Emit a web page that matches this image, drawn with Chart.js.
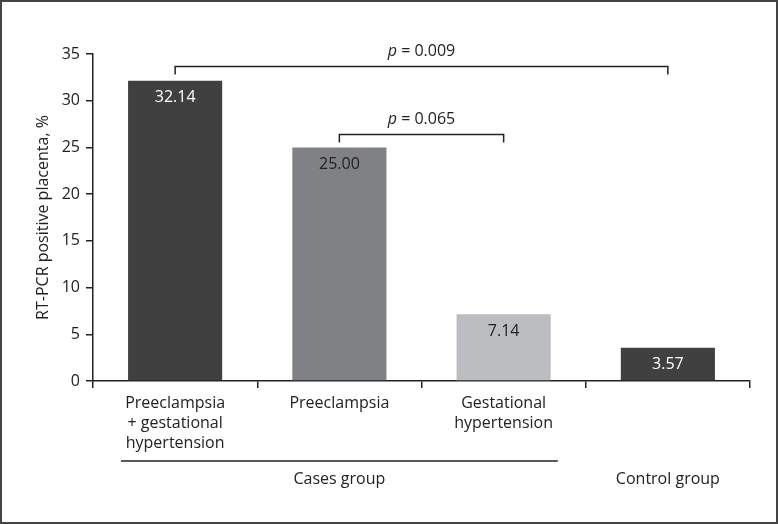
<!DOCTYPE html>
<html>
<head>
<meta charset="utf-8">
<script src="https://cdn.jsdelivr.net/npm/chart.js@4.4.1/dist/chart.umd.min.js"></script>
<style>
  html, body { margin: 0; padding: 0; background: #fff; }
  #wrap { width: 778px; height: 524px; position: relative; }
</style>
</head>
<body>
<div id="wrap"><canvas id="myChart"></canvas></div>
<script>
// Data

const categories = [
    ["Preeclampsia", "+ gestational", "hypertension"],
    ["Preeclampsia"],
    ["Gestational", "hypertension"],
    [""]
];
const values = [32.14, 25.00, 7.14, 3.57];
const valueLabels = ["32.14", "25.00", "7.14", "3.57"];
const groups = [
    ["Cases group", 0, 2],
    ["Control group", 3, 3]
];
// comparisons: from bar, to bar, p value
const comparisons = [
    [0, 3, "0.009"],
    [1, 2, "0.065"]
];

const barColors = ["#404040", "#808185", "#bcbdc0", "#404040"];
const labelColors = ["#ffffff", "#222222", "#222222", "#ffffff"];
const bracketLevels = [33.75, 26.45];
const FONT = "'Open Sans', sans-serif";
const INK = "#222222";

// Extra drawing: value labels, brackets, group lines, frame

const extras = {
    id: "extras",
    afterDatasetsDraw(chart) {
        const ctx = chart.ctx;
        const x = chart.scales.x;
        const y = chart.scales.y;
        const meta = chart.getDatasetMeta(0);

        ctx.save();
        ctx.textAlign = "center";
        ctx.textBaseline = "middle";
        ctx.font = "16px " + FONT;
        meta.data.forEach((bar, i) => {
            ctx.fillStyle = labelColors[i];
            ctx.fillText(valueLabels[i], bar.x, bar.y + 17);
        });

        ctx.strokeStyle = INK;
        ctx.lineWidth = 1.5;
        comparisons.forEach((c, i) => {
            const x1 = x.getPixelForValue(c[0]);
            const x2 = x.getPixelForValue(c[1]);
            const yy = Math.round(y.getPixelForValue(bracketLevels[i])) + 0.5;
            ctx.beginPath();
            ctx.moveTo(x1, yy + 8);
            ctx.lineTo(x1, yy);
            ctx.lineTo(x2, yy);
            ctx.lineTo(x2, yy + 8);
            ctx.stroke();

            const mid = (x1 + x2) / 2;
            const rest = " = " + c[2];
            ctx.font = "italic 16px " + FONT;
            const pw = ctx.measureText("p").width;
            ctx.font = "16px " + FONT;
            const rw = ctx.measureText(rest).width;
            const left = mid - (pw + rw) / 2;
            ctx.fillStyle = INK;
            ctx.textAlign = "left";
            ctx.font = "italic 16px " + FONT;
            ctx.fillText("p", left, yy - 15);
            ctx.font = "16px " + FONT;
            ctx.fillText(rest, left + pw, yy - 15);
            ctx.textAlign = "center";
        });

        const step = x.getPixelForValue(1) - x.getPixelForValue(0);
        groups.forEach(g => {
            const x1 = x.getPixelForValue(g[1]);
            const x2 = x.getPixelForValue(g[2]);
            if (g[1] !== g[2]) {
                ctx.beginPath();
                ctx.moveTo(x1 - step * 0.33, 461);
                ctx.lineTo(x2 + step * 0.33, 461);
                ctx.stroke();
            }
            ctx.fillStyle = INK;
            ctx.font = "16px " + FONT;
            ctx.fillText(g[0], (x1 + x2) / 2, 479);
        });

        ctx.strokeStyle = "#444444";
        ctx.lineWidth = 2;
        ctx.strokeRect(1, 1, chart.width - 2, chart.height - 2);
        ctx.restore();
    }
};

// Config

const config = {
    type: "bar",
    data: {
        labels: categories,
        datasets: [{
            data: values,
            backgroundColor: barColors,
            categoryPercentage: 1,
            barPercentage: 0.573
        }]
    },
    options: {
        responsive: false,
        animation: false,
        layout: {
            padding: { left: 0, right: 28, top: 54, bottom: 0 }
        },
        plugins: {
            legend: { display: false },
            tooltip: { enabled: false }
        },
        scales: {
            x: {
                afterFit: (scale) => { scale.height = 143; },
                grid: {
                    offset: true,
                    drawOnChartArea: false,
                    drawTicks: true,
                    tickLength: 7,
                    color: INK,
                    lineWidth: 1.5
                },
                border: { color: INK, width: 1.5 },
                ticks: {
                    color: INK,
                    padding: 5,
                    maxRotation: 0,
                    autoSkip: false,
                    font: { family: FONT, size: 16, lineHeight: 1.25 }
                }
            },
            y: {
                min: 0,
                max: 35,
                afterFit: (scale) => { scale.width = 93; },
                grid: {
                    drawOnChartArea: false,
                    drawTicks: true,
                    tickLength: 7,
                    color: INK,
                    lineWidth: 1.5
                },
                border: { color: INK, width: 1.5 },
                ticks: {
                    stepSize: 5,
                    color: INK,
                    padding: 6,
                    font: { family: FONT, size: 16 }
                },
                title: {
                    display: true,
                    text: "RT-PCR positive placenta, %",
                    color: INK,
                    padding: { top: 34, bottom: 0 },
                    font: { family: FONT, size: 16 }
                }
            }
        }
    },
    plugins: [extras]
};

// Render init block

const canvas = document.getElementById("myChart");
canvas.width = 778;
canvas.height = 524;
const myChart = new Chart(canvas, config);
</script>
</body>
</html>
